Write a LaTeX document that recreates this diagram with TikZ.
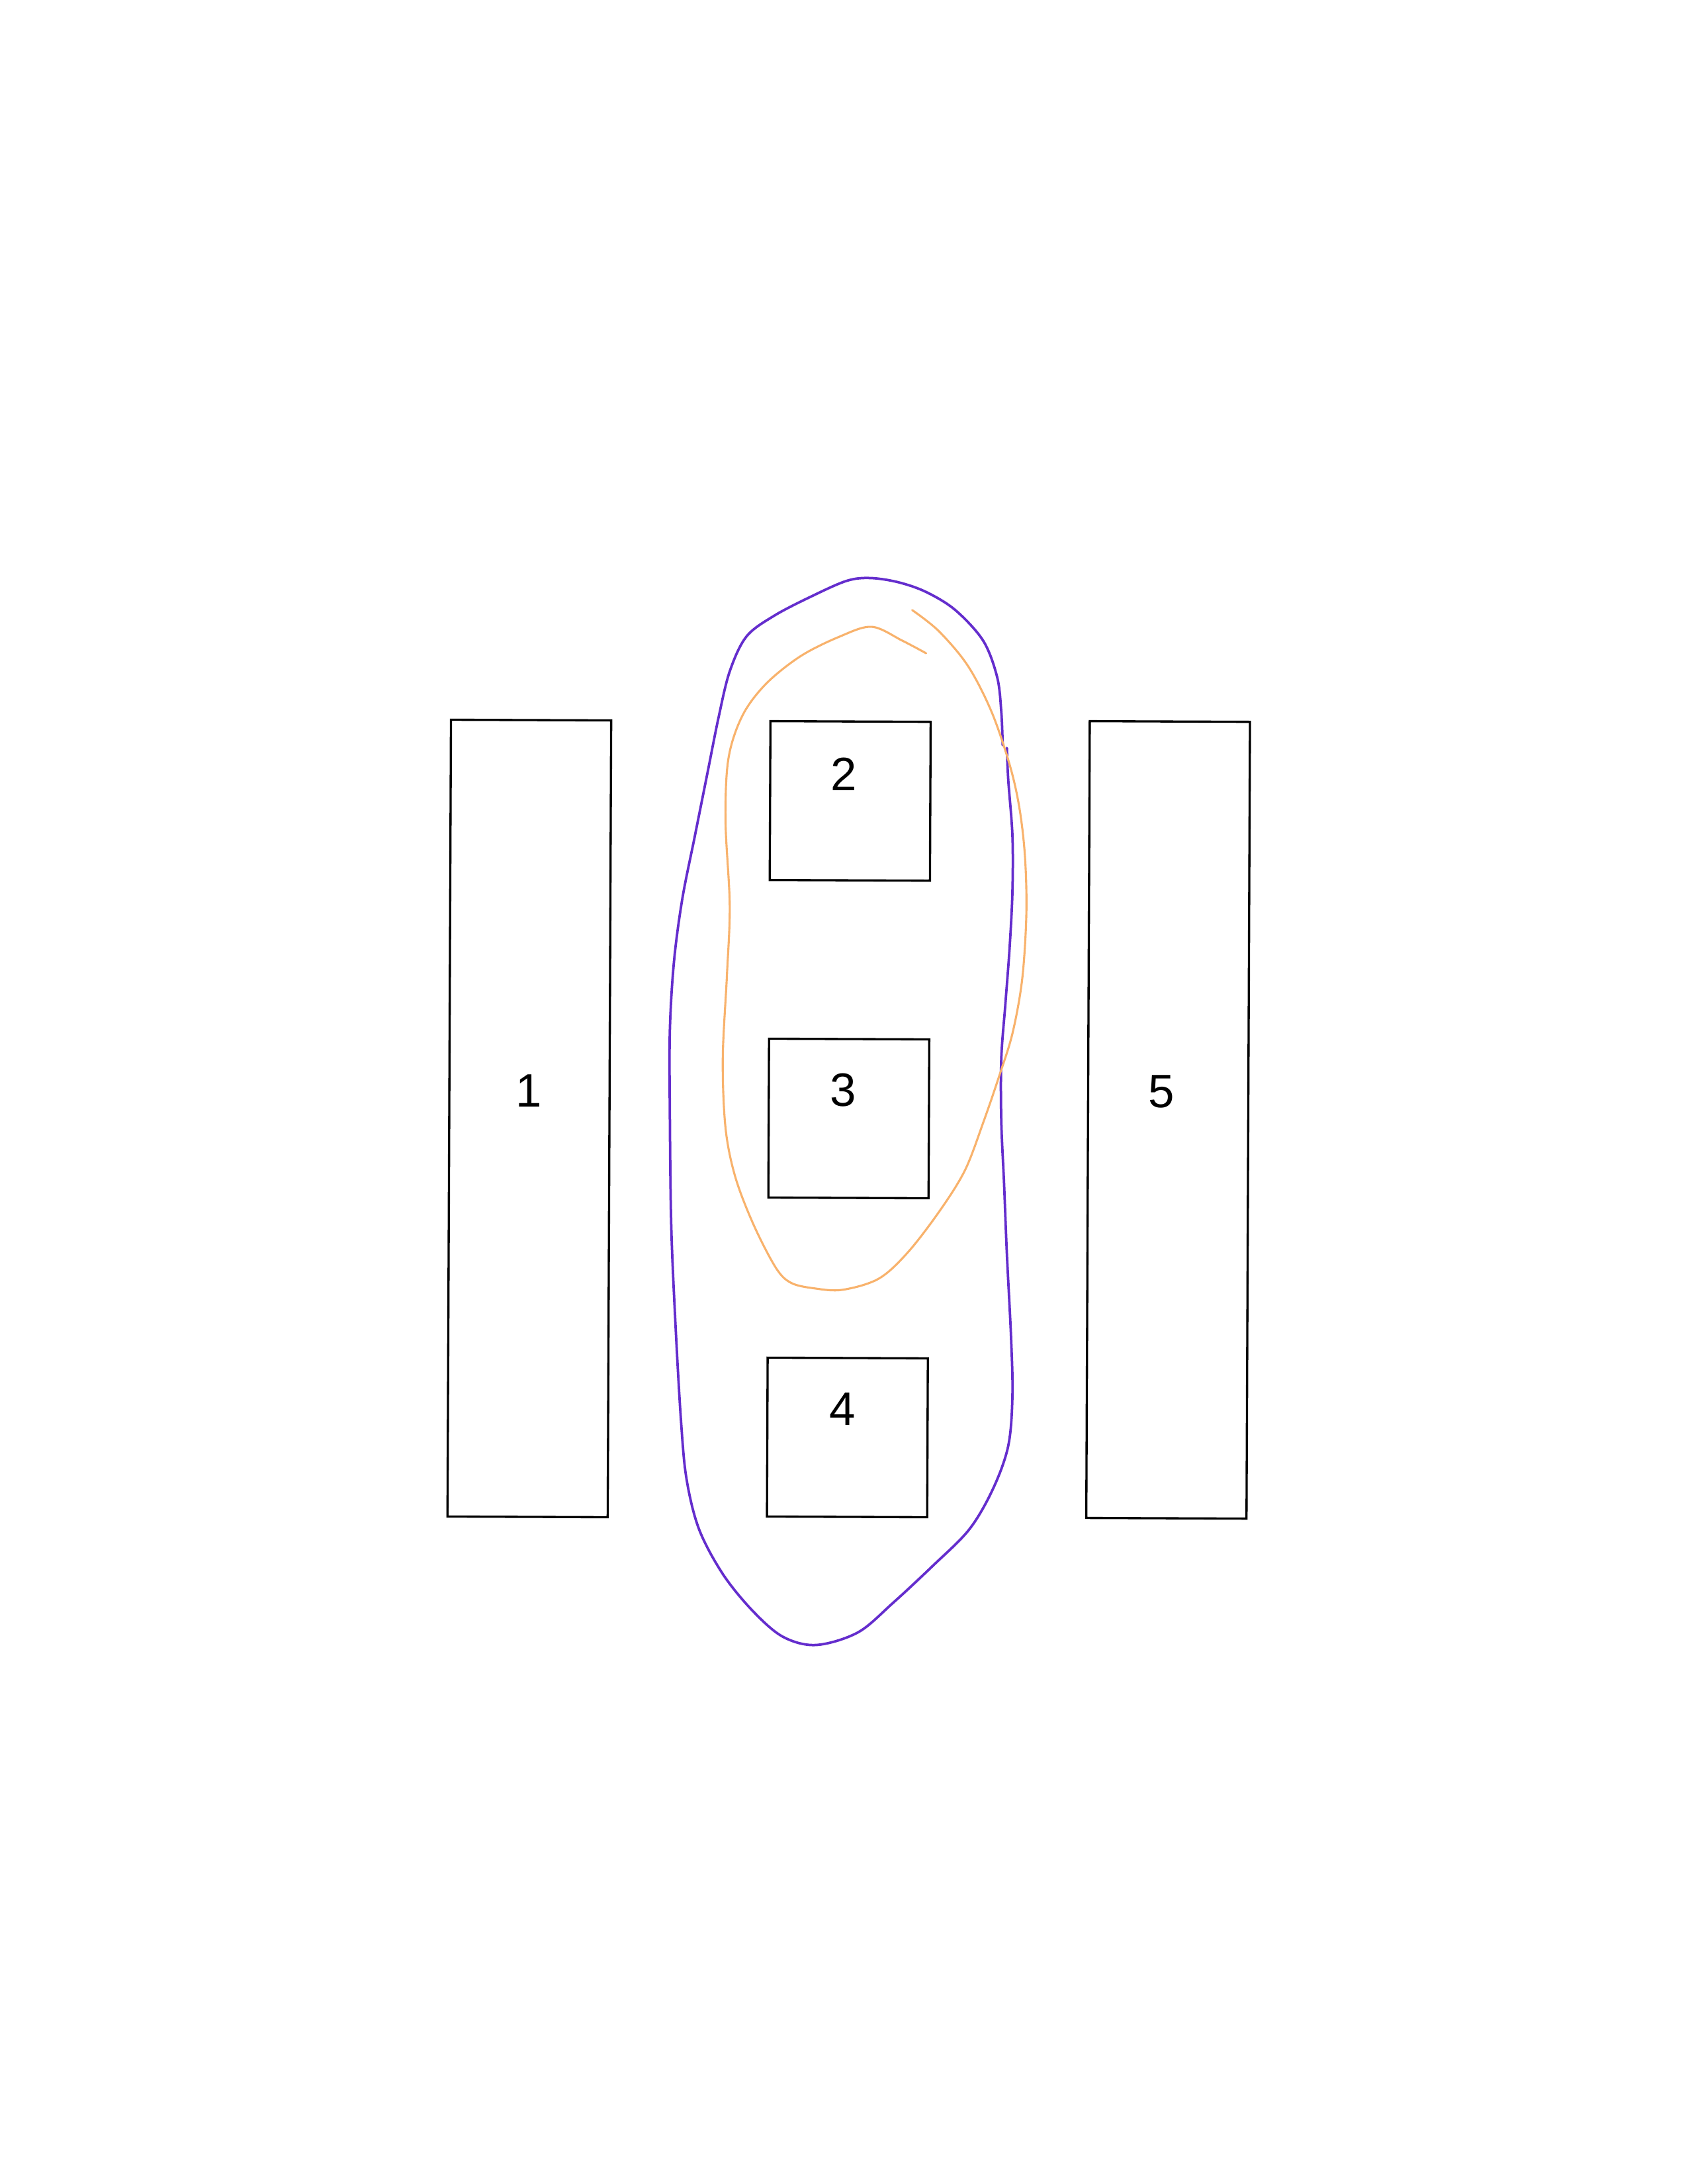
\documentclass[tikz,border=0pt]{standalone}
\usepackage{fontspec}
\setmainfont{Liberation Sans}
\usetikzlibrary{calc}
\definecolor{pen purple}{RGB}{100,45,205}
\definecolor{pen orange}{RGB}{248,178,108}
\tikzset{
    % Plain black outline shared by every box
    box outline/.style={draw, line width=0.8pt, inner sep=0, rotate=-0.25},
%
    % The two tall bars at either side
    tall bar/.style={box outline, minimum width=58.1pt, minimum height=288.9pt},
%
    % The small square cells of the middle column
    small cell/.style={box outline, minimum width=58.1pt, minimum height=57.6pt},
%
    % Number printed near the top of a box
    box number/.style={inner sep=0, font=\fontsize{17}{20}\selectfont},
%
    % Hand drawn loops round the middle column
    purple loop/.style={draw=pen purple, line width=0.9pt,
        line cap=round, line join=round},
    orange loop/.style={draw=pen orange, line width=0.75pt,
        line cap=round, line join=round}}

\begin{document}
\begin{tikzpicture}[x=0.505pt, y=-0.505pt]
\fill [white] (0,0) rectangle (1212,1568);
\useasboundingbox (0,0) rectangle (1212,1568);

% Side bars
\node [tall bar] (left bar) at (380.1,803) {};
\node [tall bar] (right bar) at (838.8,804) {};

% Middle column of cells
\node [small cell] (top cell) at (610.5,575) {};
\node [small cell] (middle cell) at (609.5,803) {};
\node [small cell] (bottom cell) at (608.5,1032) {};

% Numbers, set a little above the centre of each box
\node [box number] (left number) at ($(left bar)+(-0.6,-19.7)$) {1};
\node [box number] (top number) at ($(top cell)+(-4.7,-19.1)$) {2};
\node [box number] (middle number) at ($(middle cell)+(-3.9,-20.3)$) {3};
\node [box number] (bottom number) at ($(bottom cell)+(-3.6,-20.5)$) {4};
\node [box number] (right number) at ($(right bar)+(-4.8,-20.2)$) {5};

% Purple loop round all three cells
\draw [purple loop] plot [smooth, tension=0.55] coordinates {
    (723,537) (724,560) (727,600) (727,640) (725,680) (722,720)
    (719,760) (719,805) (721,850) (723,900) (726,960) (727,1002)
    (724,1038) (713,1069) (696,1098) (670,1124) (641,1151) (616,1172)
    (586,1181) (562,1175) (540,1156) (519,1130) (502,1098) (493,1062)
    (489,1020) (485,950) (482,880) (481,800) (481,740) (484,690)
    (490,645) (499,600) (508,555) (516,515) (524,482) (536,457)
    (556,442) (583,428) (608,417) (625,415) (645,418) (665,425)
    (686,438) (706,460) (716,486) (719,511) (720,535)};

% Orange loop round the upper two cells
\draw [orange loop] plot [smooth, tension=0.55] coordinates {
    (665,469) (648,460) (626,450) (603,457) (575,471) (550,491)
    (533,514) (523,545) (521,590) (524,650) (522,700) (519,760)
    (521,810) (528,845) (541,879) (557,910) (568,921) (585,925)
    (605,926) (631,918) (652,899) (675,869) (693,840) (706,806)
    (717,774) (727,742) (734,703) (737,656) (736,615) (732,580)
    (725,549) (712,511) (695,478) (674,453) (655,438)};

\end{tikzpicture}
\end{document}
